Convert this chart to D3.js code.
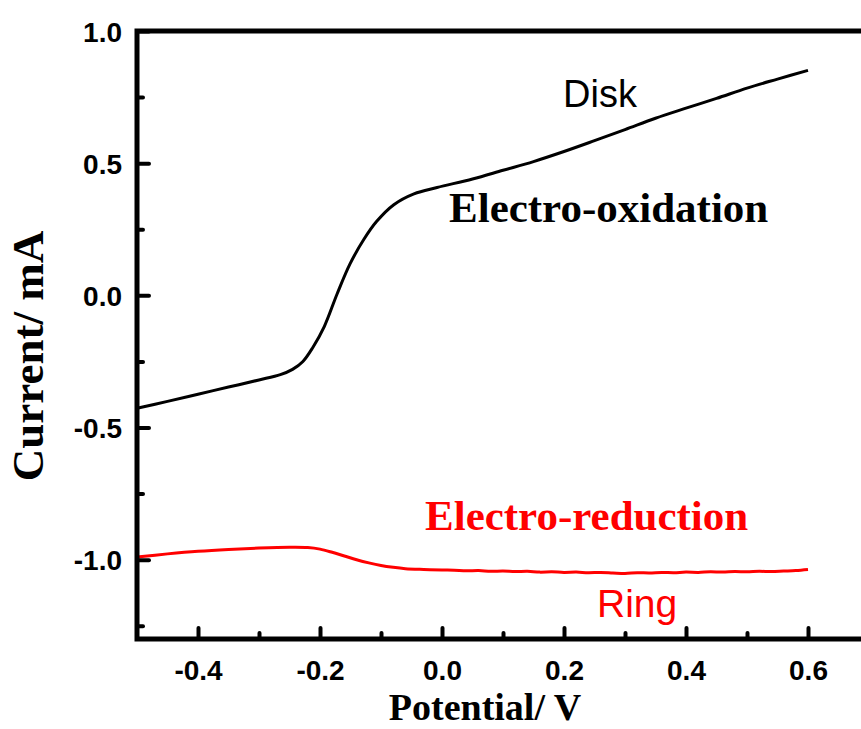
<!DOCTYPE html>
<html>
<head>
<meta charset="utf-8">
<script src="https://cdn.jsdelivr.net/npm/d3@7"></script>
<style>
  html, body { margin: 0; padding: 0; background: #fff; }
  svg { display: block; }
</style>
</head>
<body>
<div id="chart"></div>
<script>
// Rotating ring-disk electrode sweep: disk oxidation current and ring reduction current
const diskPotential = [-0.5, -0.45, -0.4, -0.35, -0.3, -0.265, -0.245, -0.228, -0.212, -0.193,
  -0.172, -0.151, -0.128, -0.107, -0.079, -0.046, -0.008,
  0.05, 0.1, 0.15, 0.2, 0.25, 0.3, 0.35, 0.4, 0.45, 0.5, 0.55, 0.6];
const diskCurrent = [-0.427, -0.401, -0.374, -0.347, -0.320, -0.300, -0.280, -0.250, -0.198, -0.118,
  0.005, 0.118, 0.212, 0.280, 0.343, 0.384, 0.408,
  0.440, 0.473, 0.506, 0.544, 0.585, 0.627, 0.670, 0.708, 0.745, 0.784, 0.818, 0.851];

const ringPotential = [-0.5, -0.45, -0.4, -0.35, -0.3, -0.25, -0.22, -0.2, -0.18, -0.16,
  -0.14, -0.12, -0.1, -0.08, -0.06, -0.03, 0.0,
  0.02, 0.04, 0.06, 0.08, 0.10, 0.12, 0.14, 0.16, 0.18, 0.20, 0.22, 0.24, 0.26, 0.28, 0.30,
  0.32, 0.34, 0.36, 0.38, 0.40, 0.42, 0.44, 0.46, 0.48, 0.50, 0.52, 0.54, 0.56, 0.58, 0.60];
const ringCurrent = [-0.990, -0.978, -0.968, -0.961, -0.956, -0.953, -0.954, -0.960, -0.972, -0.986,
  -1.000, -1.012, -1.022, -1.029, -1.034, -1.037, -1.039,
  -1.040, -1.042, -1.041, -1.044, -1.043, -1.045, -1.044, -1.047, -1.046, -1.048, -1.047, -1.049, -1.048, -1.050, -1.052,
  -1.049, -1.050, -1.048, -1.049, -1.047, -1.048, -1.046, -1.047, -1.045, -1.046, -1.044, -1.045, -1.043, -1.041, -1.037];

const xDomain = [-0.5, 0.7];
const yDomain = [-1.3, 1.0];
const xTickValues = [-0.4, -0.2, 0.0, 0.2, 0.4, 0.6];
const xMinorValues = [-0.3, -0.1, 0.1, 0.3, 0.5];
const yTickValues = [-1.0, -0.5, 0.0, 0.5, 1.0];
const yMinorValues = [-1.25, -0.75, -0.25, 0.25, 0.75];

const W = 861, H = 729;
const margin = { left: 137, top: 31, right: -8, bottom: 90 };

const svg = d3.select("#chart").append("svg")
  .attr("width", W).attr("height", H);

const x = d3.scaleLinear().domain(xDomain).range([margin.left, W - margin.right]);
const y = d3.scaleLinear().domain(yDomain).range([H - margin.bottom, margin.top]);

const sans = "'Liberation Sans', Arial, sans-serif";
const serif = "'Liberation Serif', 'Times New Roman', serif";

// tick labels use a plain hyphen for negatives
const fmt = d => d3.format(".1f")(d).replace("\u2212", "-");

// curves
const line = d3.line().x(d => x(d[0])).y(d => y(d[1])).curve(d3.curveCatmullRom.alpha(0.5));

svg.append("path")
  .datum(diskPotential.map((v, i) => [v, diskCurrent[i]]))
  .attr("d", line)
  .attr("fill", "none").attr("stroke", "#000").attr("stroke-width", 3)
  .attr("stroke-linejoin", "round");

svg.append("path")
  .datum(ringPotential.map((v, i) => [v, ringCurrent[i]]))
  .attr("d", line)
  .attr("fill", "none").attr("stroke", "#ff0000").attr("stroke-width", 3)
  .attr("stroke-linejoin", "round");

// axes: inward ticks
const xAxis = svg.append("g").attr("transform", `translate(0,${y(yDomain[0])})`)
  .call(d3.axisBottom(x).tickValues(xTickValues).tickSize(-11).tickPadding(21)
    .tickFormat(fmt));
svg.append("g").attr("transform", `translate(0,${y(yDomain[0])})`)
  .call(d3.axisBottom(x).tickValues(xMinorValues).tickSize(-6).tickFormat(""));

const yAxis = svg.append("g").attr("transform", `translate(${x(xDomain[0])},0)`)
  .call(d3.axisLeft(y).tickValues(yTickValues).tickSize(-12).tickPadding(15)
    .tickFormat(fmt));
svg.append("g").attr("transform", `translate(${x(xDomain[0])},0)`)
  .call(d3.axisLeft(y).tickValues(yMinorValues).tickSize(-6).tickFormat(""));

svg.selectAll(".domain").remove();
svg.selectAll(".tick line")
  .attr("stroke", "#000").attr("stroke-width", 4).attr("stroke-linecap", "round");
svg.selectAll(".tick text")
  .attr("font-family", sans).attr("font-weight", "bold").attr("font-size", 28).attr("fill", "#000");
yAxis.selectAll(".tick text").attr("dy", "0.36em");
xAxis.selectAll(".tick text").attr("dy", "0.71em");

// frame
svg.append("rect")
  .attr("x", x(xDomain[0])).attr("y", y(yDomain[1]))
  .attr("width", x(xDomain[1]) - x(xDomain[0]))
  .attr("height", y(yDomain[0]) - y(yDomain[1]))
  .attr("fill", "none").attr("stroke", "#000").attr("stroke-width", 5);

// axis titles
svg.append("text")
  .attr("x", 485).attr("y", 720)
  .attr("text-anchor", "middle")
  .attr("font-family", serif).attr("font-weight", "bold").attr("font-size", 38)
  .text("Potential/ V");

svg.append("text")
  .attr("transform", "translate(43,356) rotate(-90)")
  .attr("text-anchor", "middle")
  .attr("font-family", serif).attr("font-weight", "bold").attr("font-size", 45)
  .text("Current/ mA");

// annotations
svg.append("text")
  .attr("x", 563).attr("y", 107)
  .attr("font-family", sans).attr("font-size", 38).attr("fill", "#000")
  .text("Disk");

svg.append("text")
  .attr("x", 449).attr("y", 222)
  .attr("font-family", serif).attr("font-weight", "bold").attr("font-size", 43).attr("fill", "#000")
  .text("Electro-oxidation");

svg.append("text")
  .attr("x", 425).attr("y", 530)
  .attr("font-family", serif).attr("font-weight", "bold").attr("font-size", 43).attr("fill", "#ff0000")
  .text("Electro-reduction");

svg.append("text")
  .attr("x", 597).attr("y", 617)
  .attr("font-family", sans).attr("font-size", 39).attr("fill", "#ff0000")
  .text("Ring");
</script>
</body>
</html>
